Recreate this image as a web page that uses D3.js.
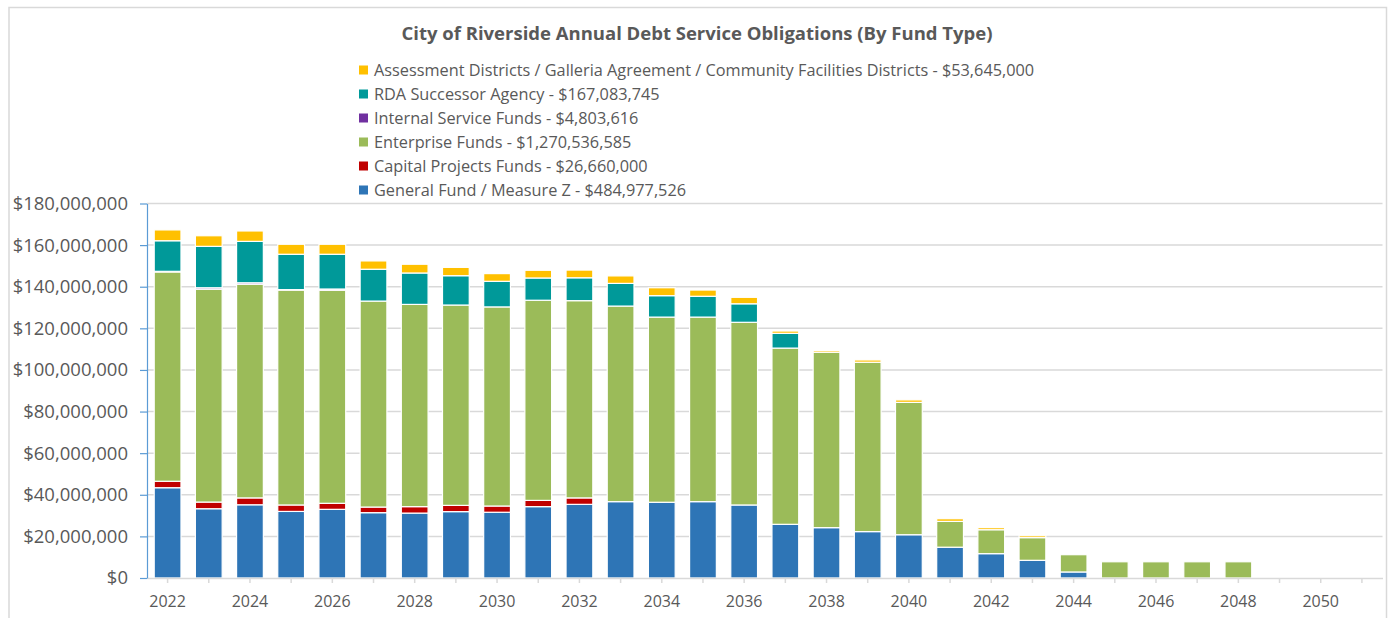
<!DOCTYPE html>
<html>
<head>
<meta charset="utf-8">
<script src="https://cdn.jsdelivr.net/npm/d3@7/dist/d3.min.js"></script>
<style>
  body { margin: 0; background: #fff; }
  text { font-family: "Open Sans", sans-serif; fill: #595959; }
</style>
</head>
<body>
<svg id="chart" width="1390" height="618"></svg>
<script>
// Years on the category axis
const years = [2022, 2023, 2024, 2025, 2026, 2027, 2028, 2029, 2030, 2031,
               2032, 2033, 2034, 2035, 2036, 2037, 2038, 2039, 2040, 2041,
               2042, 2043, 2044, 2045, 2046, 2047, 2048, 2049, 2050, 2051];

// Annual amounts per fund type, in millions of dollars
const generalFund = [43.4, 33.3, 35.2, 32.0, 33.0, 31.4, 31.2, 31.9, 31.6, 34.3,
                     35.4, 36.7, 36.4, 36.7, 35.1, 25.8, 24.2, 22.3, 20.8, 14.8,
                     11.7, 8.5, 2.9, 0, 0, 0, 0, 0, 0, 0];
const capitalProjects = [3.1, 3.2, 3.3, 3.1, 2.9, 2.7, 3.1, 3.0, 3.0, 3.0,
                         3.1, 0, 0, 0, 0, 0, 0, 0, 0, 0,
                         0, 0, 0, 0, 0, 0, 0, 0, 0, 0];
const enterprise = [100.6, 102.3, 102.7, 103.3, 102.4, 99.0, 97.2, 96.3, 95.7, 96.2,
                    94.8, 94.0, 89.0, 88.7, 87.8, 84.7, 84.3, 81.4, 63.6, 12.4,
                    11.5, 10.9, 8.3, 7.8, 7.8, 7.8, 7.8, 0, 0, 0];
const internalService = [0.3, 0.7, 0.7, 0.2, 0.6, 0, 0, 0, 0, 0,
                         0, 0, 0, 0, 0, 0, 0, 0, 0, 0,
                         0, 0, 0, 0, 0, 0, 0, 0, 0, 0];
const rdaSuccessor = [14.7, 19.9, 19.9, 17.0, 16.7, 15.3, 15.1, 14.1, 12.3, 10.7,
                      11.0, 10.9, 10.3, 10.0, 8.9, 7.1, 0, 0, 0, 0,
                      0, 0, 0, 0, 0, 0, 0, 0, 0, 0];
const assessment = [5.2, 5.1, 5.0, 4.8, 4.8, 4.0, 4.2, 4.0, 3.7, 3.7,
                    3.7, 3.6, 3.8, 3.0, 3.1, 1.1, 0.8, 1.1, 1.2, 1.3,
                    1.0, 0.9, 0, 0, 0, 0, 0, 0, 0, 0];

// Series in stacking order (bottom first)
const seriesKeys = ["general", "capital", "enterprise", "internal", "rda", "assessment"];
const seriesNames = {
    general: "General Fund / Measure Z - $484,977,526",
    capital: "Capital Projects Funds - $26,660,000",
    enterprise: "Enterprise Funds - $1,270,536,585",
    internal: "Internal Service Funds - $4,803,616",
    rda: "RDA Successor Agency - $167,083,745",
    assessment: "Assessment Districts / Galleria Agreement / Community Facilities Districts - $53,645,000"
};
const seriesColors = {
    general: "#2e75b6",
    capital: "#c00000",
    enterprise: "#9bbb59",
    internal: "#7030a0",
    rda: "#009999",
    assessment: "#ffc000"
};
const yTicks = [0, 20, 40, 60, 80, 100, 120, 140, 160, 180];

const title = "City of Riverside Annual Debt Service Obligations (By Fund Type)";

// Build rows for d3.stack
const rows = years.map((yr, i) => ({
    year: yr,
    general: generalFund[i],
    capital: capitalProjects[i],
    enterprise: enterprise[i],
    internal: internalService[i],
    rda: rdaSuccessor[i],
    assessment: assessment[i]
}));

const svg = d3.select("#chart");

// chart border
svg.append("rect")
   .attr("x", 9).attr("y", 7.5)
   .attr("width", 1377.5).attr("height", 640)
   .attr("fill", "none")
   .attr("stroke", "#d9d9d9")
   .attr("stroke-width", 1.5);

const plot = { left: 147, right: 1382.5, top: 203.5, bottom: 578 };

const x = d3.scaleBand()
            .domain(years)
            .range([plot.left, plot.right])
            .paddingInner(0.35)
            .paddingOuter(0.175);

const y = d3.scaleLinear()
            .domain([0, 180])
            .range([plot.bottom, plot.top]);

// gridlines
svg.append("g")
   .selectAll("line")
   .data(yTicks.filter(d => d > 0))
   .enter().append("line")
   .attr("x1", plot.left).attr("x2", plot.right)
   .attr("y1", d => y(d)).attr("y2", d => y(d))
   .attr("stroke", "#d9d9d9")
   .attr("stroke-width", 1.5);

// stacked bars
const stacked = d3.stack().keys(seriesKeys)(rows);

svg.append("g")
   .selectAll("g")
   .data(stacked)
   .enter().append("g")
   .attr("fill", d => seriesColors[d.key])
   .selectAll("rect")
   .data(d => d.filter(s => s[1] - s[0] > 0))
   .enter().append("rect")
   .attr("x", d => x(d.data.year))
   .attr("width", x.bandwidth())
   .attr("y", d => y(d[1]))
   .attr("height", d => y(d[0]) - y(d[1]))
   .attr("stroke", "#fff")
   .attr("stroke-width", 1.2);

// x axis
const fmtDollar = d3.format("$,");
const xAxis = svg.append("g")
   .attr("transform", "translate(0," + plot.bottom + ")")
   .call(d3.axisBottom(x)
           .tickSize(5)
           .tickSizeOuter(0)
           .tickPadding(13)
           .tickFormat(d => (d % 2 === 0 ? d : "")));
xAxis.select(".domain").attr("stroke", "#d9d9d9").attr("stroke-width", 1.5);
xAxis.selectAll(".tick line").attr("stroke", "#d9d9d9").attr("stroke-width", 1.5);
xAxis.selectAll(".tick text").style("font-size", "16px").attr("fill", "#595959");

// y axis
const yAxis = svg.append("g")
   .attr("transform", "translate(" + plot.left + ",0)")
   .call(d3.axisLeft(y)
           .tickValues(yTicks)
           .tickSize(7)
           .tickSizeOuter(0)
           .tickPadding(12)
           .tickFormat(d => fmtDollar(d * 1e6)));
yAxis.select(".domain").attr("stroke", "#5b9bd5").attr("stroke-width", 1.2);
yAxis.selectAll(".tick line").attr("stroke", "#5b9bd5").attr("stroke-width", 1.2);
yAxis.selectAll(".tick text").style("font-size", "18.5px").attr("fill", "#595959");

// title
svg.append("text")
   .attr("x", 697)
   .attr("y", 40)
   .attr("text-anchor", "middle")
   .style("font-size", "18.5px")
   .style("font-weight", "bold")
   .text(title);

// legend (top entry is the top of the stack)
const legend = svg.append("g");
seriesKeys.slice().reverse().forEach((key, i) => {
    const item = legend.append("g")
                       .attr("transform", "translate(359," + (70 + i * 24) + ")");
    item.append("rect")
        .attr("x", 0).attr("y", -4.5)
        .attr("width", 9).attr("height", 9)
        .attr("fill", seriesColors[key]);
    item.append("text")
        .attr("x", 15)
        .attr("dy", "0.35em")
        .style("font-size", "16.3px")
        .text(seriesNames[key]);
});
</script>
</body>
</html>
